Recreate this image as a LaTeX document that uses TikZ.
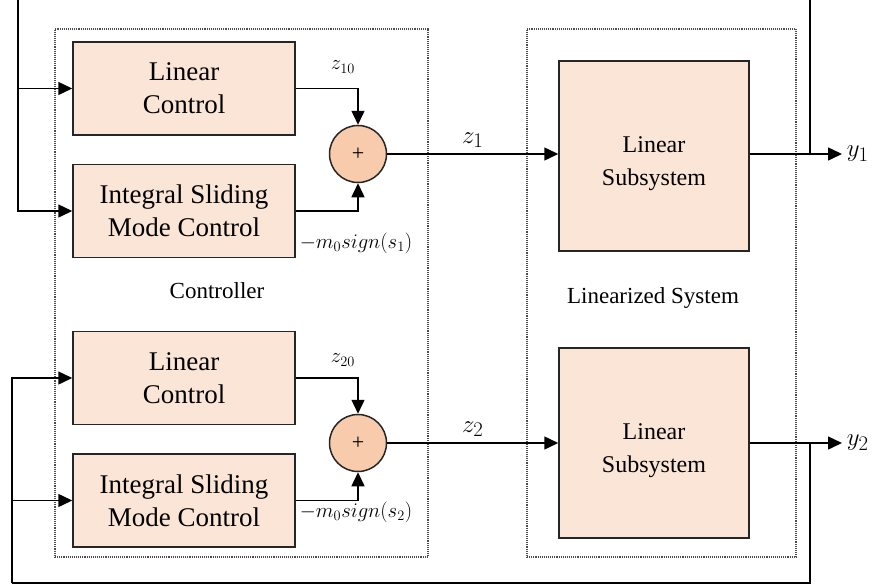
\documentclass[tikz,border=0pt]{standalone}
\usepackage{fontspec}
\setmainfont{Liberation Serif}
\usepackage{amsmath}
\usetikzlibrary{arrows.meta}
\definecolor{boxfill}{HTML}{FBE5D6}
\definecolor{sumfill}{HTML}{F8CBAD}

\begin{document}
\begin{tikzpicture}[x=1pt,y=-1pt,line width=1.5pt,>={Triangle[length=14pt,width=13pt]},
	ctl/.style={rectangle,draw=black!85,fill=boxfill,minimum width=222pt,minimum height=93pt,align=center,font=\fontsize{27}{33}\selectfont},
	sub/.style={rectangle,draw=black!85,fill=boxfill,minimum width=190pt,minimum height=190pt,align=center,font=\fontsize{24}{33}\selectfont},
	sum/.style={circle,draw=black!85,fill=sumfill,minimum size=57pt,inner sep=0pt,font=\fontsize{22}{22}\selectfont},
	frame/.style={rectangle,draw=black!70,line width=1.1pt,densely dotted},
	big/.style={font=\fontsize{31}{31}\selectfont},
	small/.style={font=\fontsize{22}{22}\selectfont}]
	\useasboundingbox (0,0) rectangle (878,586);

	% dotted frames
	\node[frame,minimum width=373pt,minimum height=528pt] (c) at (241.5,293) {};
	\node[frame,minimum width=269pt,minimum height=528pt] (d) at (661.5,293) {};
	\node[font=\fontsize{23}{23}\selectfont] (c0) at (217,291) {Controller};
	\node[font=\fontsize{23}{23}\selectfont] (d0) at (653,298) {Linearized System};

	\node[ctl] (a1) at (184,88.5) {Linear\\Control};
	\node[ctl] (b1) at (184,211) {Integral Sliding\\Mode Control};
	\node[ctl] (a2) at (184,378) {Linear\\Control};
	\node[ctl] (b2) at (184,500.5) {Integral Sliding\\Mode Control};

	\node[sum] (s1) at (358,154) {+};
	\node[sum] (s2) at (358,443) {+};

	\node[sub,text height=58pt,text depth=0pt] (p1) at (654,156) {Linear\\Subsystem};
	\node[sub,text height=58pt,text depth=0pt] (p2) at (654,443) {Linear\\Subsystem};

	\node[small] (z10) at (343,67) {$z_{10}$};
	\node[small] (m1) at (356,243) {$-m_0 sign(s_1)$};
	\node[small] (z20) at (343,360) {$z_{20}$};
	\node[small] (m2) at (356,512) {$-m_0 sign(s_2)$};

	\node[big,anchor=west,inner sep=4pt] (y1) at (842,154) {$y_1$};
	\node[big,anchor=west,inner sep=4pt] (y2) at (842,443) {$y_2$};

	\coordinate (f1) at (810,154);
	\coordinate (f2) at (810,443);
	\coordinate (k1) at (810,-20);
	\coordinate (k2) at (18,-20);
	\coordinate (k3) at (810,583);
	\coordinate (k4) at (12,583);

	\draw[->] (a1) -| (s1);
	\draw[->] (b1) -| (s1);
	\draw[->] (a2) -| (s2);
	\draw[->] (b2) -| (s2);

	\draw[->] (s1) -- node[big,above,yshift=2pt] {$z_1$} (s1 -| p1.west);
	\path[->] (s2) edge node[big,above,yshift=2pt] {$z_2$} (p2);
	\draw[->] (p1.east |- y1) -- (y1);
	\path[->] (p2) edge (y2);

	% feedback
	\draw (f1) -- (k1) -- (k2);
	\draw[->] (k2) |- (a1);
	\draw[->] (k2) |- (b1);
	\draw (f2) -- (k3) -- (k4);
	\draw[->] (k4) |- (a2);
	\draw[->] (k4) |- (b2);
\end{tikzpicture}
\end{document}
